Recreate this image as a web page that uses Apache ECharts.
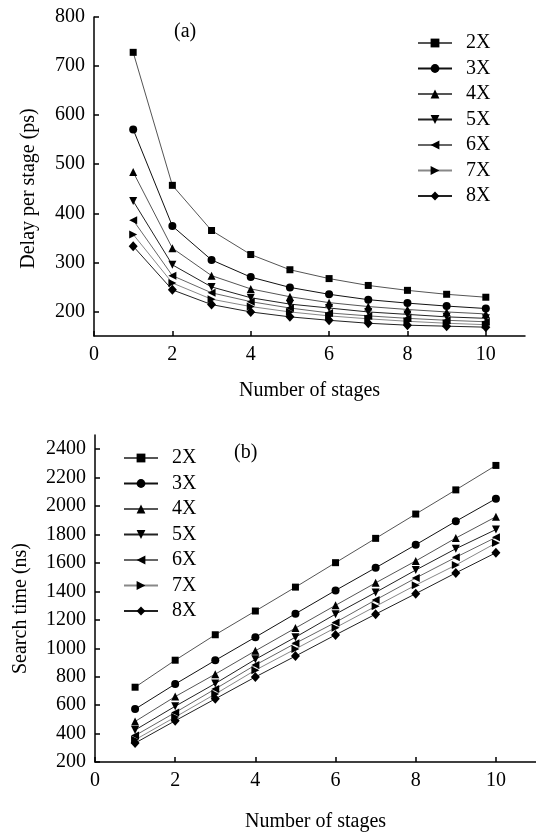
<!DOCTYPE html>
<html>
<head>
<meta charset="utf-8">
<script src="https://cdn.jsdelivr.net/npm/echarts@6/dist/echarts.min.js"></script>
<style>
  html, body { margin: 0; padding: 0; background: #fff; }
  #chart { width: 536px; height: 834px; }
</style>
</head>
<body>
<div id="chart"></div>
<script>
const stages = [1, 2, 3, 4, 5, 6, 7, 8, 9, 10]
const seriesNames = ['2X', '3X', '4X', '5X', '6X', '7X', '8X']

// (a) delay per stage, ps
const delay2X = [728, 457, 365, 316, 285, 267, 253, 243, 235, 229]
const delay3X = [571, 374, 305, 270, 249, 235, 224, 217, 211, 206]
const delay4X = [484, 329, 273, 246, 230, 218, 210, 204, 199, 195]
const delay5X = [425, 295, 250, 228, 215, 207, 199, 194, 189, 186]
const delay6X = [386, 273, 238, 220, 207, 197, 191, 186, 182, 179]
const delay7X = [357, 258, 225, 210, 199, 191, 185, 180, 176, 173]
const delay8X = [333, 244, 214, 199, 189, 182, 176, 172, 170, 168]

// (b) search time, ns
const search2X = [726, 916, 1095, 1262, 1430, 1602, 1773, 1944, 2114, 2286]
const search3X = [572, 748, 915, 1078, 1243, 1407, 1566, 1728, 1893, 2052]
const search4X = [485, 660, 818, 982, 1142, 1302, 1460, 1614, 1775, 1925]
const search5X = [425, 592, 752, 922, 1078, 1240, 1393, 1550, 1700, 1835]
const search6X = [386, 548, 714, 882, 1035, 1182, 1340, 1494, 1640, 1780]
const search7X = [356, 516, 678, 846, 995, 1145, 1295, 1444, 1585, 1740]
const search8X = [333, 490, 644, 798, 945, 1094, 1240, 1384, 1530, 1672]

const xTicks = [0, 2, 4, 6, 8, 10]
const delayTicks = [200, 300, 400, 500, 600, 700, 800]
const searchTicks = [200, 400, 600, 800, 1000, 1200, 1400, 1600, 1800, 2000, 2200, 2400]

const delayData = [delay2X, delay3X, delay4X, delay5X, delay6X, delay7X, delay8X]
const searchData = [search2X, search3X, search4X, search5X, search6X, search7X, search8X]

const FONT = 'Liberation Serif'
const MARKERS = [
  { symbol: 'rect', size: 7, rotate: 0, color: '#555' },
  { symbol: 'circle', size: 8, rotate: 0, color: '#111' },
  { symbol: 'triangle', size: 8, rotate: 0, color: '#555' },
  { symbol: 'triangle', size: 8, rotate: 180, color: '#222' },
  { symbol: 'triangle', size: 8, rotate: 90, color: '#666' },
  { symbol: 'triangle', size: 8, rotate: -90, color: '#888' },
  { symbol: 'diamond', size: [9, 10], rotate: 0, color: '#222' }
]

function makeSeries(dataList, axisIndex) {
  return dataList.map((values, i) => {
    const m = MARKERS[i]
    return {
      name: seriesNames[i],
      type: 'line',
      xAxisIndex: axisIndex,
      yAxisIndex: axisIndex,
      data: stages.map((s, k) => [s, values[k]]),
      symbol: m.symbol,
      symbolSize: m.size,
      symbolRotate: m.rotate,
      showAllSymbol: true,
      lineStyle: { color: m.color, width: 1 },
      itemStyle: { color: '#000' },
      emphasis: { disabled: true },
      animation: false
    }
  })
}

const plain = v => String(v)

function makeXAxis(gridIndex, nameGap) {
  return {
    type: 'value',
    gridIndex,
    min: 0,
    max: 11,
    name: 'Number of stages',
    nameLocation: 'middle',
    nameGap,
    nameTextStyle: { fontFamily: FONT, fontSize: 20, color: '#000' },
    axisLine: { lineStyle: { color: '#000', width: 1.5 } },
    axisTick: { inside: true, length: 5, customValues: xTicks, lineStyle: { color: '#000', width: 1.5 } },
    axisLabel: { customValues: xTicks, formatter: plain, margin: 9, fontFamily: FONT, fontSize: 20, color: '#000' },
    splitLine: { show: false }
  }
}

function makeYAxis(gridIndex, min, max, ticks, name, nameGap, pad) {
  return {
    type: 'value',
    gridIndex,
    min,
    max,
    name,
    nameLocation: 'middle',
    nameGap,
    nameTextStyle: { fontFamily: FONT, fontSize: 20, color: '#000', padding: [0, pad, 0, 0] },
    axisLine: { show: true, lineStyle: { color: '#000', width: 1.5 } },
    axisTick: { show: true, inside: true, length: 5, customValues: ticks, lineStyle: { color: '#000', width: 1.5 } },
    axisLabel: { customValues: ticks, formatter: plain, margin: 9, fontFamily: FONT, fontSize: 20, color: '#000' },
    splitLine: { show: false }
  }
}

function makeLegend(left, top) {
  return {
    data: seriesNames,
    orient: 'vertical',
    left,
    top,
    padding: 0,
    itemGap: 5.5,
    itemWidth: 34,
    itemHeight: 11,
    selectedMode: false,
    textStyle: { fontFamily: FONT, fontSize: 20, color: '#000', lineHeight: 20, padding: [0, 0, 0, 9] }
  }
}

const chart = echarts.init(document.getElementById('chart'))
chart.setOption({
  backgroundColor: '#fff',
  animation: false,
  grid: [
    { left: 94, top: 17, width: 431, height: 319 },
    { left: 95, top: 435, width: 441, height: 327 }
  ],
  xAxis: [makeXAxis(0, 45), makeXAxis(1, 50)],
  yAxis: [
    makeYAxis(0, 150, 800, delayTicks, 'Delay per stage (ps)', 55, 24),
    makeYAxis(1, 200, 2500, searchTicks, 'Search time (ns)', 64, 20)
  ],
  legend: [makeLegend(417, 33), makeLegend(123, 448)],
  graphic: [
    { type: 'text', left: 174, top: 22, style: { text: '(a)', font: '20px "Liberation Serif"', fill: '#000' } },
    { type: 'text', left: 234, top: 443, style: { text: '(b)', font: '20px "Liberation Serif"', fill: '#000' } }
  ],
  series: makeSeries(delayData, 0).concat(makeSeries(searchData, 1))
})
</script>
</body>
</html>
